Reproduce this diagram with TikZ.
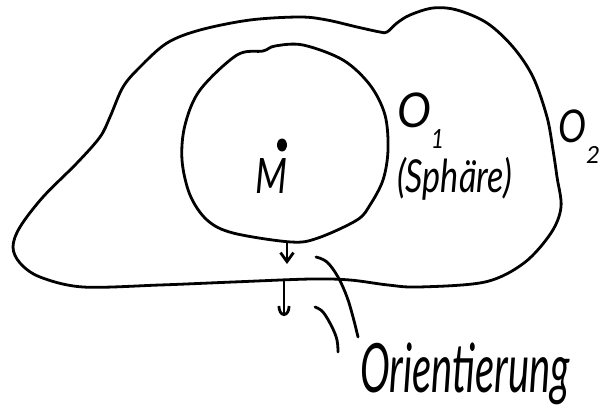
\documentclass[tikz,border=0pt]{standalone}
\usepackage{graphicx}
\usepackage{fontspec}
\setmainfont{Lato}
\usetikzlibrary{arrows.meta}
\tikzset{
  pen/.style={line width=2.8pt, line cap=round, line join=round},
  lbl/.style={inner sep=0pt, outer sep=0pt, anchor=north west, font=\itshape},
  barbA/.style={-{Straight Barb[length=9pt,width=13pt]}},
  barbB/.style={-{Arc Barb[length=10pt,width=13pt]}}
}
\begin{document}
\begin{tikzpicture}[x=1pt,y=-1pt]
\useasboundingbox (0,0) rectangle (601,409);
% outer region O_2
\draw[pen] plot[smooth cycle, tension=0.55] coordinates {
 (300,17) (250,20) (200,30) (167,43) (140,67) (123,87) (110,117) (100,137)
 (77,163) (43,197) (20,227) (13,247) (20,263) (40,277) (83,287)
 (160,285) (233,282) (311,279) (350,280) (388,285) (419,287) (485,282)
 (524,263) (551,233) (561,207) (557,177) (553,150) (547,117) (533,77)
 (513,47) (487,23) (457,10) (433,8) (410,15) (397,23) (387,32) (380,32)
 (357,27) (327,20)};
% inner sphere O_1
\draw[pen] plot[smooth cycle, tension=0.55] coordinates {
 (303,45) (343,60) (370,85) (385,115) (388,150) (383,180) (370,205)
 (357,220) (318,238) (291,242) (233,233) (207,220) (190,195) (182,160)
 (185,125) (200,90) (237,55) (263,51) (275,46)};
% point M
\fill (282,145) ellipse (5pt and 6.5pt);
\node[lbl] (M) at (255,158) {\resizebox*{32pt}{35pt}{M}};
% labels
\node[lbl] (O1) at (397,93) {\resizebox*{34pt}{35pt}{O}\raisebox{-21pt}{\resizebox*{13pt}{19pt}{1}}};
\node[lbl] (sph) at (397,157) {\resizebox*{115pt}{43pt}{(Sph\"are)}};
\node[lbl] (O2) at (558,110) {\resizebox*{28pt}{33pt}{O}\raisebox{-21pt}{\resizebox*{14pt}{17pt}{2}}};
\node[lbl] (ori) at (360,343) {\resizebox*{210pt}{62pt}{Orientierung}};
% orientation arrows
\coordinate (a1s) at (287,243);
\coordinate (a1e) at (287,264);
\coordinate (a2s) at (284,281);
\coordinate (a2e) at (284,316);
\draw[pen, barbA] (a1s) -- (a1e);
\draw[pen, barbB] (a2s) -- (a2e);
% pointer curves
\draw[pen] plot[smooth, tension=0.6] coordinates {(316,257) (327,262) (338,277) (347,297) (353,317) (358,337)};
\draw[pen] plot[smooth, tension=0.6] coordinates {(315,307) (323,312) (332,327) (337,340) (338,352)};
\end{tikzpicture}
\end{document}
